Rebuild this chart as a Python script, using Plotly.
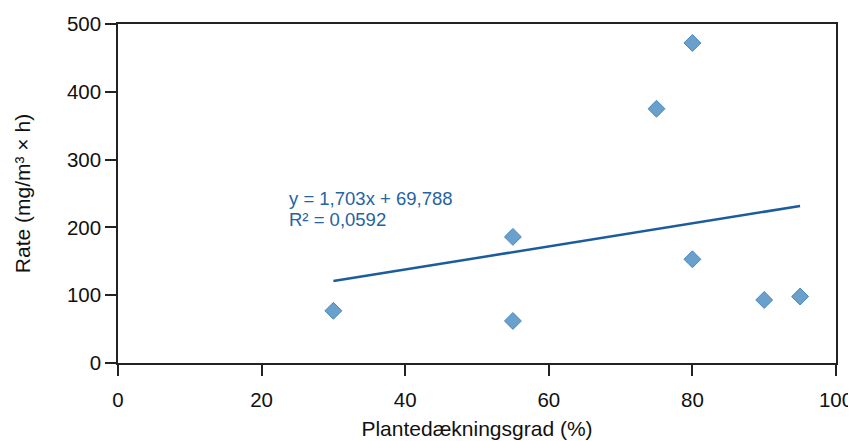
import plotly.graph_objects as go

coverage = [30, 55, 55, 75, 80, 80, 90, 95]
rate = [77, 186, 62, 375, 472, 153, 93, 98]
fit_slope = 1.703
fit_intercept = 69.788
eq_text = "y = 1,703x + 69,788"
r2_text = "R² = 0,0592"
x_title = "Plantedækningsgrad (%)"
y_title = "Rate (mg/m³ × h)"

FONT = "Liberation Sans, Arial, sans-serif"

fit_x = [min(coverage), max(coverage)]
fit_y = [fit_slope * v + fit_intercept for v in fit_x]

fig = go.Figure()
fig.add_trace(go.Scatter(
    x=fit_x, y=fit_y, mode="lines",
    line=dict(color="#1c5c9c", width=2.5),
    hoverinfo="skip", showlegend=False,
))
fig.add_trace(go.Scatter(
    x=coverage, y=rate, mode="markers",
    marker=dict(symbol="diamond", size=13, color="#6aa0cc",
                line=dict(color="#4a87bd", width=1)),
    showlegend=False,
))

fig.add_annotation(x=23.5, y=242, text=eq_text, showarrow=False,
                   xanchor="left", yanchor="middle",
                   font=dict(family=FONT, size=18.5, color="#2563a3"))
fig.add_annotation(x=23.5, y=212, text=r2_text, showarrow=False,
                   xanchor="left", yanchor="middle",
                   font=dict(family=FONT, size=18.5, color="#2563a3"))

axis_common = dict(
    showline=True, linecolor="#222", linewidth=1.5, mirror=True,
    ticks="outside", ticklen=11, tickcolor="#222", tickwidth=1.5,
    showgrid=False, zeroline=False, automargin=False,
    tickfont=dict(family=FONT, size=20.5, color="#111"),
)

fig.update_xaxes(range=[0, 100], dtick=20, ticklabelstandoff=7, **axis_common,
                 title=dict(text=x_title, font=dict(family=FONT, size=21, color="#111"), standoff=11))
fig.update_yaxes(range=[0, 500], dtick=100, **axis_common,
                 title=dict(text=y_title, font=dict(family=FONT, size=21, color="#111"), standoff=31))

fig.update_layout(
    width=848, height=433,
    margin=dict(l=110, r=20, t=16, b=78),
    paper_bgcolor="white", plot_bgcolor="white",
    font=dict(family=FONT),
)

fig.write_html("out.html")
